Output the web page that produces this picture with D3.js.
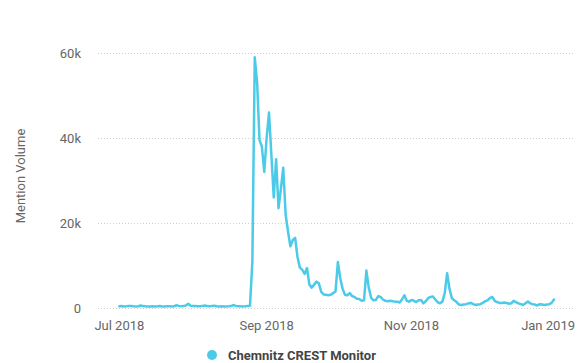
<!DOCTYPE html>
<html>
<head>
<meta charset="utf-8">
<script src="https://cdn.jsdelivr.net/npm/d3@7"></script>
<style>
  body { margin: 0; background: #fff; }
  text { font-family: Roboto, "Helvetica Neue", Arial, sans-serif; }
</style>
</head>
<body>
<script>
// daily mention counts, 1 Jul 2018 .. 31 Dec 2018
var startDate = new Date(2018, 6, 1);
var julAug = [400, 450, 380, 420, 500, 450, 400, 380, 420, 600, 450, 400, 380, 350, 420, 380,
  400, 450, 380, 350, 400, 420, 380, 400, 650, 500, 420, 450, 600, 1000, 550, // Jul
  450, 480, 420, 400, 500, 600, 450, 420, 500, 550, 400, 380, 420, 350, 380, 400, 450, 700,
  500, 400, 420, 380, 400, 450, 500, 11000, 59000, 53000, 39500, 38000, 32000]; // Aug
var sep = [40000, 46000, 36000, 26000, 35000, 23500, 28000, 33000, 22000, 18000, 14500, 16000,
  16500, 12000, 9500, 9000, 8000, 9400, 5500, 4800, 5500, 6200, 5800, 3800, 3200, 3100, 3000,
  3100, 3500, 3900];
var oct = [10800, 7000, 4500, 3100, 3000, 3500, 2800, 2600, 2200, 2100, 1700, 1800, 8800, 4800,
  2400, 1800, 1900, 2800, 2600, 2000, 1700, 1600, 1700, 1600, 1500, 1500, 1300, 2000, 3000,
  1700, 1500];
var nov = [1900, 1700, 1400, 1800, 1900, 1100, 1600, 2300, 2600, 2700, 2000, 1400, 1100, 1500,
  3500, 8200, 4500, 2300, 1800, 1400, 800, 700, 800, 900, 1100, 1200, 900, 700, 800, 900];
var dec = [1200, 1600, 1800, 2300, 2600, 1700, 1400, 1200, 1200, 1300, 1200, 1000, 1100, 1700,
  1400, 1100, 900, 700, 1100, 1500, 1100, 900, 800, 600, 900, 800, 700, 800, 900, 1200, 2000];

var yTicks = [0, 20000, 40000, 60000];
var xTicks = [new Date(2018, 6, 1), new Date(2018, 8, 1), new Date(2018, 10, 1), new Date(2019, 0, 1)];
var seriesName = "Chemnitz CREST Monitor";
var lineColor = "#4ccbe8";

var values = julAug.concat(sep, oct, nov, dec);
var data = values.map(function(v, i) { return { date: d3.timeDay.offset(startDate, i), value: v }; });

var width = 582, height = 363;
var svg = d3.select("body").append("svg")
  .attr("width", width)
  .attr("height", height);

var x = d3.scaleTime()
  .domain([new Date(2018, 5, 22), new Date(2019, 0, 8)])
  .range([98, 573]);

var y = d3.scaleLinear()
  .domain([0, 60000])
  .range([308, 53]);

// grid lines
svg.append("g")
  .selectAll("line")
  .data(yTicks)
  .enter().append("line")
  .attr("x1", x.range()[0])
  .attr("x2", x.range()[1])
  .attr("y1", function(d) { return y(d) + 0.5; })
  .attr("y2", function(d) { return y(d) + 0.5; })
  .attr("stroke", "#cfcfcf")
  .attr("stroke-width", 1)
  .attr("stroke-dasharray", "1,2");

// y labels
svg.append("g")
  .selectAll("text")
  .data(yTicks)
  .enter().append("text")
  .attr("x", 81)
  .attr("y", function(d) { return y(d) + 4.5; })
  .attr("text-anchor", "end")
  .style("font-size", "13px")
  .style("fill", "#666")
  .text(function(d) { return d === 0 ? "0" : (d / 1000) + "k"; });

// y title
svg.append("text")
  .attr("transform", "translate(25,176) rotate(-90)")
  .attr("text-anchor", "middle")
  .style("font-size", "13px")
  .style("fill", "#666")
  .text("Mention Volume");

// x labels, kept inside the chart on the right
var fmt = d3.timeFormat("%b %Y");
svg.append("g")
  .selectAll("text")
  .data(xTicks)
  .enter().append("text")
  .attr("y", 330)
  .attr("text-anchor", "middle")
  .style("font-size", "13px")
  .style("fill", "#666")
  .text(function(d) { return fmt(d); })
  .attr("x", function(d) {
    var w = this.getComputedTextLength();
    return Math.min(x(d), 575 - w / 2);
  });

// line
var line = d3.line()
  .x(function(d) { return x(d.date); })
  .y(function(d) { return y(d.value); });

svg.append("path")
  .datum(data)
  .attr("fill", "none")
  .attr("stroke", lineColor)
  .attr("stroke-width", 2.5)
  .attr("stroke-linejoin", "round")
  .attr("stroke-linecap", "round")
  .attr("d", line);

// legend
svg.append("circle")
  .attr("cx", 212)
  .attr("cy", 355)
  .attr("r", 5)
  .style("fill", lineColor);

svg.append("text")
  .attr("x", 228)
  .attr("y", 359.5)
  .style("font-size", "13px")
  .style("font-weight", "bold")
  .style("fill", "#444")
  .text(seriesName);
</script>
</body>
</html>
